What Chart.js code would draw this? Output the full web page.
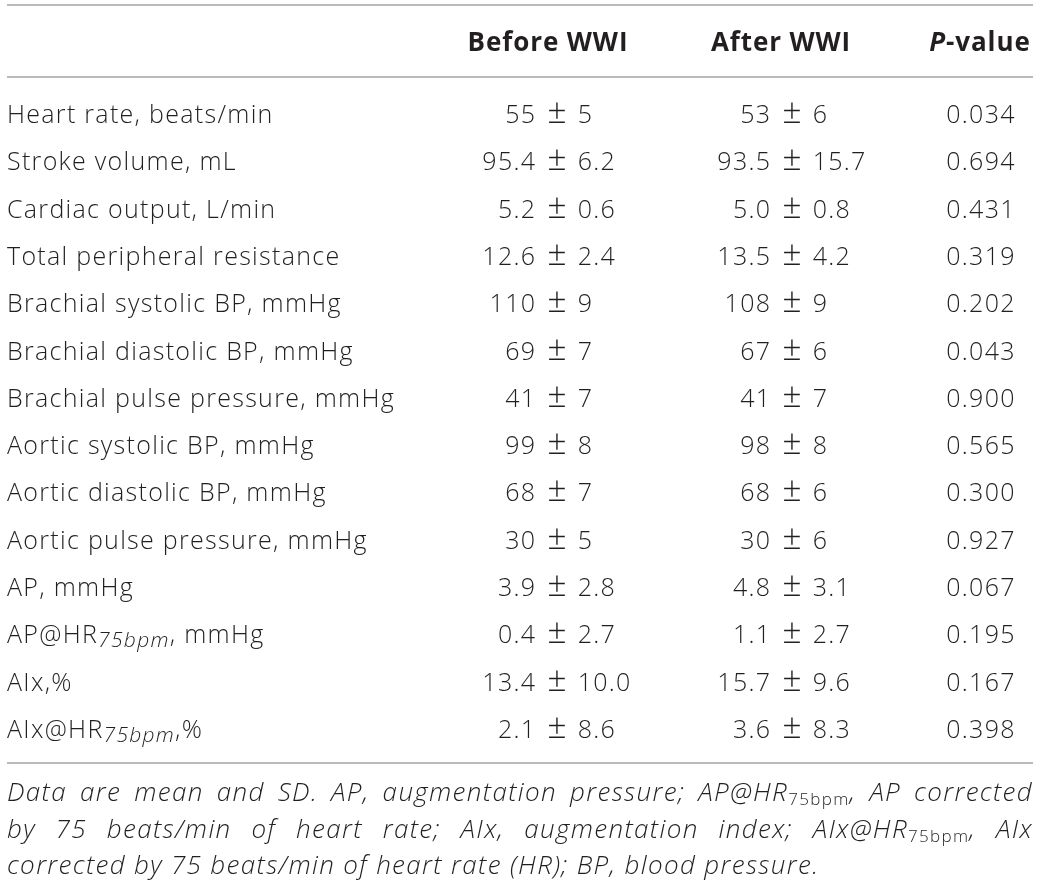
<!DOCTYPE html>
<html>
<head>
<meta charset="utf-8">
<script src="https://cdn.jsdelivr.net/npm/chart.js@4.4.1/dist/chart.umd.min.js"></script>
<style>
    html, body { margin: 0; padding: 0; background: #ffffff; }
    #wrap { position: relative; width: 1041px; height: 886px; }
</style>
</head>
<body>
<div id="wrap"><canvas id="tabla"></canvas></div>
<script>
//Datos de la tabla
const rowLabels = [
    'Heart rate, beats/min',
    'Stroke volume, mL',
    'Cardiac output, L/min',
    'Total peripheral resistance',
    'Brachial systolic BP, mmHg',
    'Brachial diastolic BP, mmHg',
    'Brachial pulse pressure, mmHg',
    'Aortic systolic BP, mmHg',
    'Aortic diastolic BP, mmHg',
    'Aortic pulse pressure, mmHg',
    'AP, mmHg',
    'AP@HR_{75bpm}, mmHg',
    'AIx,%',
    'AIx@HR_{75bpm},%'
];
const decimals   = [0, 1, 1, 1, 0, 0, 0, 0, 0, 0, 1, 1, 1, 1];
const beforeMean = [55, 95.4, 5.2, 12.6, 110, 69, 41, 99, 68, 30, 3.9, 0.4, 13.4, 2.1];
const beforeSD   = [5, 6.2, 0.6, 2.4, 9, 7, 7, 8, 7, 5, 2.8, 2.7, 10.0, 8.6];
const afterMean  = [53, 93.5, 5.0, 13.5, 108, 67, 41, 98, 68, 30, 4.8, 1.1, 15.7, 3.6];
const afterSD    = [6, 15.7, 0.8, 4.2, 9, 6, 7, 8, 6, 6, 3.1, 2.7, 9.6, 8.3];
const pValues    = [0.034, 0.694, 0.431, 0.319, 0.202, 0.043, 0.900, 0.565, 0.300, 0.927, 0.067, 0.195, 0.167, 0.398];
const headers    = ['Before WWI', 'After WWI', 'P-value'];
const footLines  = [
    'Data are mean and SD. AP, augmentation pressure; AP@HR_{75bpm}, AP corrected',
    'by 75 beats/min of heart rate; AIx, augmentation index; AIx@HR_{75bpm}, AIx',
    'corrected by 75 beats/min of heart rate (HR); BP, blood pressure.'
];

//Layout (unidades de fila en el eje y, pixeles en el eje x)
const ROW_H = 47.3;
const FIRST_BASE = 123;
const W = 1041, H = 886;
const colLabelX = 7;
const colBeforeX = 557;   // centro del signo ±
const colAfterX = 792;
const colPX = 981;
const headX = [548, 781, 980];
const headRow = -1.52;
const ruleRows = [-2.495, -0.973, 13.53];
const footRows = [14.334, 15.116, 15.877];
const textRight = 1033;

const FAMILY = '"Open Sans", "Liberation Sans", Arial, sans-serif';
const TXT = '#231f20';

const rowFont = '300 25px ' + FAMILY;
const rowSubFont = 'italic 300 21px ' + FAMILY;
const pmFont = '300 34px ' + FAMILY;
const headFont = 'bold 26px ' + FAMILY;
const headItFont = 'italic bold 26px ' + FAMILY;
const noteFont = 'italic 300 26px ' + FAMILY;
const noteSubFont = '300 17px ' + FAMILY;
const LS_ROW = '1.3px', LS_HEAD = '0.9px', LS_NOTE = '1.35px';
const PM_GAP = 11;

function fmt(v, d) { return v.toFixed(d); }

function parseRuns(str) {
    const runs = [];
    const re = /_\{([^}]+)\}/g;
    let last = 0, m;
    while ((m = re.exec(str)) !== null) {
        if (m.index > last) runs.push({ t: str.slice(last, m.index), sub: false });
        runs.push({ t: m[1], sub: true });
        last = re.lastIndex;
    }
    if (last < str.length) runs.push({ t: str.slice(last), sub: false });
    return runs;
}

function drawRuns(ctx, runs, x, y, mainFont, subFont, subShift) {
    runs.forEach(r => {
        ctx.font = r.sub ? subFont : mainFont;
        ctx.fillText(r.t, x, y + (r.sub ? subShift : 0));
        x += ctx.measureText(r.t).width;
    });
    return x;
}

function runsWidth(ctx, runs, mainFont, subFont) {
    let w = 0;
    runs.forEach(r => {
        ctx.font = r.sub ? subFont : mainFont;
        w += ctx.measureText(r.t).width;
    });
    return w;
}

const tablePlugin = {
    id: 'tabla',
    afterDatasetsDraw(chart) {
        const { ctx, scales: { x, y } } = chart;
        ctx.save();

        //Lineas horizontales
        ctx.strokeStyle = '#a3a3a3';
        ctx.lineWidth = 1.6;
        ruleRows.forEach(r => {
            const py = y.getPixelForValue(r);
            ctx.beginPath();
            ctx.moveTo(x.getPixelForValue(colLabelX), py);
            ctx.lineTo(x.getPixelForValue(textRight), py);
            ctx.stroke();
        });

        ctx.fillStyle = TXT;
        ctx.textBaseline = 'alphabetic';

        //Cabecera
        ctx.letterSpacing = LS_HEAD;
        const hy = y.getPixelForValue(headRow);
        ctx.textAlign = 'left';
        ctx.font = headFont;
        [0, 1].forEach(k => {
            const w = ctx.measureText(headers[k]).width;
            ctx.fillText(headers[k], x.getPixelForValue(headX[k]) - w / 2, hy);
        });
        ctx.font = headItFont;
        const wP = ctx.measureText('P').width;
        ctx.font = headFont;
        const wRest = ctx.measureText(headers[2].slice(1)).width;
        let px = x.getPixelForValue(headX[2]) - (wP + wRest) / 2;
        ctx.font = headItFont;
        ctx.fillText('P', px, hy);
        ctx.font = headFont;
        ctx.fillText(headers[2].slice(1), px + wP, hy);

        //Celdas
        ctx.letterSpacing = LS_ROW;
        chart.data.datasets.forEach((ds, di) => {
            const meta = chart.getDatasetMeta(di);
            meta.data.forEach((pt, i) => {
                const cx = pt.x, cy = pt.y;
                if (ds.kind === 'label') {
                    ctx.textAlign = 'left';
                    drawRuns(ctx, parseRuns(ds.texts[i]), cx, cy, rowFont, rowSubFont, 4);
                } else if (ds.kind === 'pm') {
                    ctx.letterSpacing = '0px';
                    ctx.font = pmFont;
                    const half = ctx.measureText('±').width / 2;
                    ctx.textAlign = 'center';
                    ctx.fillText('±', cx, cy);
                    ctx.letterSpacing = LS_ROW;
                    ctx.font = rowFont;
                    const m = fmt(ds.means[i], decimals[i]);
                    ctx.textAlign = 'left';
                    ctx.fillText(m, cx - half - PM_GAP - ctx.measureText(m).width, cy);
                    ctx.fillText(fmt(ds.sds[i], decimals[i]), cx + half + PM_GAP, cy);
                } else if (ds.kind === 'p') {
                    ctx.font = rowFont;
                    const t = ds.values[i].toFixed(3);
                    ctx.textAlign = 'left';
                    ctx.fillText(t, cx - ctx.measureText(t).width / 2, cy);
                }
            });
        });

        //Nota al pie (justificada)
        ctx.letterSpacing = LS_NOTE;
        ctx.textAlign = 'left';
        const left = x.getPixelForValue(colLabelX);
        const right = x.getPixelForValue(textRight);
        footLines.forEach((line, li) => {
            const fy = y.getPixelForValue(footRows[li]);
            const words = line.split(' ').map(w => parseRuns(w));
            const widths = words.map(w => runsWidth(ctx, w, noteFont, noteSubFont));
            const total = widths.reduce((a, b) => a + b, 0);
            ctx.font = noteFont;
            let gap = ctx.measureText(' ').width;
            if (li < footLines.length - 1) gap = (right - left - total) / (words.length - 1);
            let fx = left;
            words.forEach((w, wi) => {
                drawRuns(ctx, w, fx, fy, noteFont, noteSubFont, 4);
                fx += widths[wi] + gap;
            });
        });

        ctx.restore();
    }
};

const idx = rowLabels.map((_, i) => i);

const config = {
    type: 'scatter',
    data: {
        datasets: [
            { label: 'Variable', kind: 'label', texts: rowLabels, data: idx.map(i => ({ x: colLabelX, y: i })) },
            { label: headers[0], kind: 'pm', means: beforeMean, sds: beforeSD, data: idx.map(i => ({ x: colBeforeX, y: i })) },
            { label: headers[1], kind: 'pm', means: afterMean, sds: afterSD, data: idx.map(i => ({ x: colAfterX, y: i })) },
            { label: headers[2], kind: 'p', values: pValues, data: idx.map(i => ({ x: colPX, y: i })) }
        ]
    },
    options: {
        responsive: true,
        maintainAspectRatio: false,
        animation: false,
        events: [],
        layout: { padding: 0 },
        elements: { point: { radius: 0, hoverRadius: 0 } },
        plugins: { legend: { display: false }, tooltip: { enabled: false } },
        scales: {
            x: { type: 'linear', display: false, min: 0, max: W },
            y: {
                type: 'linear', display: false, reverse: true,
                min: -FIRST_BASE / ROW_H,
                max: (H - FIRST_BASE) / ROW_H
            }
        }
    },
    plugins: [tablePlugin]
};

new Chart(document.getElementById('tabla'), config);//Crea la tabla
</script>
</body>
</html>
